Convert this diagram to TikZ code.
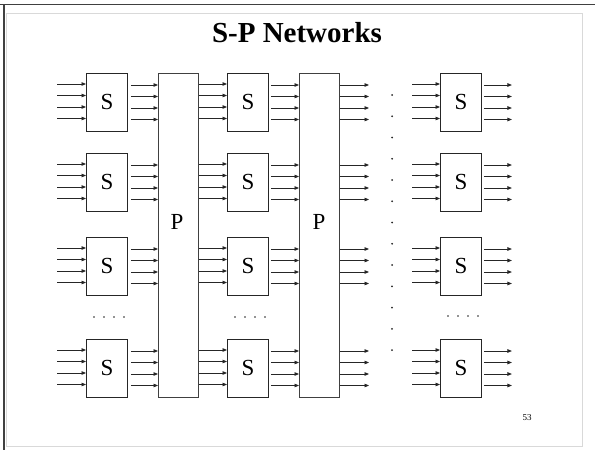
\documentclass[tikz,border=0pt]{standalone}
\usepackage{fontspec}
\setmainfont{Liberation Serif}
\usetikzlibrary{arrows.meta,calc}
\begin{document}
\begin{tikzpicture}[x=1pt,y=-1pt,
  sbox/.style={draw=black!85, line width=0.9pt, minimum width=41pt, minimum height=58pt, inner sep=0pt, anchor=north west, font=\fontsize{23}{23}\selectfont},
  pbox/.style={draw=black!75, line width=1pt, minimum width=40pt, minimum height=324pt, inner sep=0pt, anchor=north west},
  plabel/.style={font=\fontsize{23}{23}\selectfont, inner sep=0pt},
  arr/.style={-{Triangle[length=4.5pt,width=3.6pt]}, line width=0.85pt, draw=black!85},
  dot/.style={fill=black!85},
]
\useasboundingbox (0,0) rectangle (595,450);
% slide frame
\draw[black!15, line width=1pt] (6,13) rectangle (582,446);
\draw[black!75, line width=1pt] (0,4) -- (595,4);
\draw[black!75, line width=1.2pt] (4,4) -- (4,450);
% title
\node[font=\bfseries\fontsize{29}{29}\selectfont, inner sep=0pt] (title) at (297,33) {S-P Networks};
% P boxes
\node[pbox] (P1) at (158,73) {};
\node[pbox] (P2) at (299,73) {};
\node[plabel] (P1l) at (177,222) {P};
\node[plabel] (P2l) at (319,222) {P};
% S boxes
\foreach \c/\x in {1/86,2/227,3/440}{
  \foreach \r/\y in {1/73,2/153,3/237,4/339}{
    \node[sbox] (s\c\r) at (\x,\y) {S};
  }
}
% arrows
\foreach \r in {1,2,3,4}{
  \foreach \k/\o in {1/11,2/22.5,3/34,4/45.5}{
    \path (s1\r.north west) ++(0,\o) coordinate (i1\r\k);
    \draw[arr] ([xshift=-29pt]i1\r\k) -- (i1\r\k);
    \path (s1\r.north east) ++(3,\o+1) coordinate (o1\r\k);
    \draw[arr] (o1\r\k) -- (o1\r\k -| P1.west);
    \path (s2\r.north west) ++(0,\o) coordinate (i2\r\k);
    \draw[arr] (i2\r\k -| P1.east) -- (i2\r\k);
    \path (s2\r.north east) ++(2,\o+1) coordinate (o2\r\k);
    \draw[arr] (o2\r\k) -- (o2\r\k -| P2.west);
    \draw[arr] (o2\r\k -| P2.east) -- ++(29,0) coordinate (e2\r\k);
    \path (s3\r.north west) ++(0,\o) coordinate (i3\r\k);
    \draw[arr] ([xshift=-28pt]i3\r\k) -- (i3\r\k);
    \path (s3\r.north east) ++(2,\o+1) coordinate (o3\r\k);
    \draw[arr] (o3\r\k) -- ++(28,0) coordinate (e3\r\k);
  }
}
% vertical dots
\foreach \i in {0,...,12}{
  \fill[dot] (392,95+21.25*\i) circle (1);
}
% horizontal dots
\foreach \i in {0,...,3}{
  \fill[dot] (94+10*\i,317) circle (0.85);
  \fill[dot] (235+10*\i,317) circle (0.85);
  \fill[dot] (448+10*\i,316) circle (0.85);
}
% page number
\node[font=\fontsize{9}{9}\selectfont, inner sep=0pt] (pg) at (527,418) {53};
\end{tikzpicture}
\end{document}
